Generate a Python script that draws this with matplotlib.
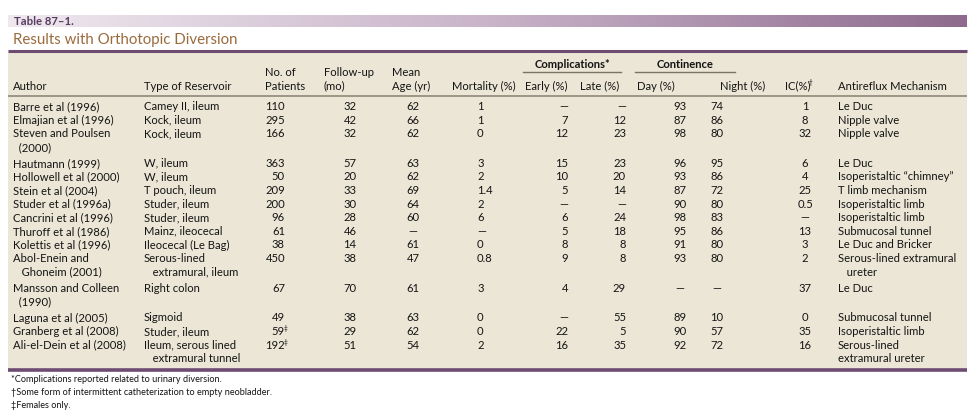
import numpy as np
import matplotlib.pyplot as plt
from matplotlib.colors import LinearSegmentedColormap

# table contents
authors = ["Barre et al (1996)", "Elmajian et al (1996)", "Steven and Poulsen\n  (2000)",
           "Hautmann (1999)", "Hollowell et al (2000)", "Stein et al (2004)",
           "Studer et al (1996a)", "Cancrini et al (1996)", "Thuroff et al (1986)",
           "Kolettis et al (1996)", "Abol-Enein and\n   Ghoneim (2001)", "Mansson and Colleen\n  (1990)",
           "Laguna et al (2005)", "Granberg et al (2008)", "Ali-el-Dein et al (2008)"]
reservoir = ["Camey II, ileum", "Kock, ileum", "Kock, ileum", "W, ileum", "W, ileum",
             "T pouch, ileum", "Studer, ileum", "Studer, ileum", "Mainz, ileocecal",
             "Ileocecal (Le Bag)", "Serous-lined\n   extramural, ileum", "Right colon",
             "Sigmoid", "Studer, ileum", "Ileum, serous lined\n   extramural tunnel"]
patients = ["110", "295", "166", "363", "50", "209", "200", "96", "61", "38", "450", "67", "49", "59", "192"]
females_only = [False] * 13 + [True, True]
followup = ["32", "42", "32", "57", "20", "33", "30", "28", "46", "14", "38", "70", "38", "29", "51"]
mean_age = ["62", "66", "62", "63", "62", "69", "64", "60", "—", "61", "47", "61", "63", "62", "54"]
mortality = ["1", "1", "0", "3", "2", "1.4", "2", "6", "—", "0", "0.8", "3", "0", "0", "2"]
early = ["—", "7", "12", "15", "10", "5", "—", "6", "5", "8", "9", "4", "—", "22", "16"]
late = ["—", "12", "23", "23", "20", "14", "—", "24", "18", "8", "8", "29", "55", "5", "35"]
day = ["93", "87", "98", "96", "93", "87", "90", "98", "95", "91", "93", "—", "89", "90", "92"]
night = ["74", "86", "80", "95", "86", "72", "80", "83", "86", "80", "80", "—", "10", "57", "72"]
ic = ["1", "8", "32", "6", "4", "25", "0.5", "—", "13", "3", "2", "37", "0", "35", "16"]
antireflux = ["Le Duc", "Nipple valve", "Nipple valve", "Le Duc", "Isoperistaltic \u201cchimney\u201d",
              "T limb mechanism", "Isoperistaltic limb", "Isoperistaltic limb", "Submucosal tunnel",
              "Le Duc and Bricker", "Serous-lined extramural\n   ureter", "Le Duc",
              "Submucosal tunnel", "Isoperistaltic limb", "Serous-lined\nextramural ureter"]
footnotes = ["*Complications reported related to urinary diversion.",
             "\u2020Some form of intermittent catheterization to empty neobladder.",
             "\u2021Females only."]

plt.rcParams['font.family'] = ['Lato', 'DejaVu Sans']
FS = 8.1
TXT = "#141414"

fig = plt.figure(figsize=(9.78, 4.18), dpi=100)
ax = fig.add_axes([0, 0, 1, 1])
ax.set_xlim(0, 978)
ax.set_ylim(418, 0)
ax.axis("off")

# title bar with gradient
grad = np.linspace(0, 1, 256).reshape(1, -1)
cmap = LinearSegmentedColormap.from_list("bar", ["#efe9ef", "#c9b4c9", "#8e6b8e"])
ax.imshow(grad, cmap=cmap, aspect="auto", extent=[8, 967, 27, 15], zorder=1)
ax.text(14, 21.5, "Table 87\u20131.", fontsize=8.2, fontweight="bold", color="#5a3b60",
        va="center", ha="left", zorder=3)
ax.text(13, 40, "Results with Orthotopic Diversion", fontsize=10.8, color="#9b6a3c",
        va="center", ha="left")

# table background and rules
ax.add_patch(plt.Rectangle((8, 51), 959, 319, facecolor="#ebe6d6", edgecolor="none", zorder=0))
ax.plot([8, 967], [51, 51], color="#6e4c72", lw=2.2, solid_capstyle="butt")
ax.plot([8, 967], [96, 96], color="#8e8878", lw=1.2, solid_capstyle="butt")
ax.plot([8, 967], [369.5, 369.5], color="#6e4c72", lw=2.6, solid_capstyle="butt")

# headers
hdr2 = 86
hdr1 = 73
ax.text(13, hdr2, "Author", fontsize=FS, color=TXT, va="center")
ax.text(144, hdr2, "Type of Reservoir", fontsize=FS, color=TXT, va="center")
ax.text(265, hdr1, "No. of", fontsize=FS, color=TXT, va="center")
ax.text(265, hdr2, "Patients", fontsize=FS, color=TXT, va="center")
ax.text(324, hdr1, "Follow-up", fontsize=FS, color=TXT, va="center")
ax.text(324, hdr2, "(mo)", fontsize=FS, color=TXT, va="center")
ax.text(392, hdr1, "Mean", fontsize=FS, color=TXT, va="center")
ax.text(392, hdr2, "Age (yr)", fontsize=FS, color=TXT, va="center")
ax.text(452, hdr2, "Mortality (%)", fontsize=FS, color=TXT, va="center")
ax.text(525, hdr2, "Early (%)", fontsize=FS, color=TXT, va="center")
ax.text(580, hdr2, "Late (%)", fontsize=FS, color=TXT, va="center")
ax.text(637, hdr2, "Day (%)", fontsize=FS, color=TXT, va="center")
ax.text(720, hdr2, "Night (%)", fontsize=FS, color=TXT, va="center")
ax.text(785, hdr2, "IC(%)", fontsize=FS, color=TXT, va="center")
ax.text(809, hdr2 - 3, "\u2020", fontsize=4.8, color=TXT, va="center")
ax.text(838, hdr2, "Antireflux Mechanism", fontsize=FS, color=TXT, va="center")
ax.text(572, 64, "Complications*", fontsize=FS, fontweight="bold", color=TXT, va="center", ha="center")
ax.plot([523, 621], [71.5, 71.5], color="#7a7466", lw=1)
ax.text(685, 64, "Continence", fontsize=FS, fontweight="bold", color=TXT, va="center", ha="center")
ax.plot([635, 735], [71.5, 71.5], color="#7a7466", lw=1)

# body rows
line_h = 13.6
gap = 2.5
y = 106.5
columns = [(authors, 13, "left"), (reservoir, 144, "left"), (patients, 285, "right"),
           (followup, 350, "center"), (mean_age, 413, "center"), (mortality, 477, "left"),
           (early, 568, "right"), (late, 626, "right"), (day, 680, "center"),
           (night, 717, "center"), (ic, 805, "center"), (antireflux, 838, "left")]
for i in range(len(authors)):
    nlines = 1
    for col, x, ha in columns:
        lines = col[i].split("\n")
        nlines = max(nlines, len(lines))
        for k, s in enumerate(lines):
            ax.text(x, y + k * line_h, s, fontsize=FS, color=TXT, va="center", ha=ha)
    if females_only[i]:
        ax.text(284, y - 3, "\u2021", fontsize=4.8, color=TXT, va="center", ha="left")
    y += nlines * line_h + (gap if nlines > 1 else 0)

# footnotes
for k, note in enumerate(footnotes):
    ax.text(11, 380 + k * 12.5, note, fontsize=6.6, color=TXT, va="center", ha="left")

fig.savefig("out.png", dpi=100)
